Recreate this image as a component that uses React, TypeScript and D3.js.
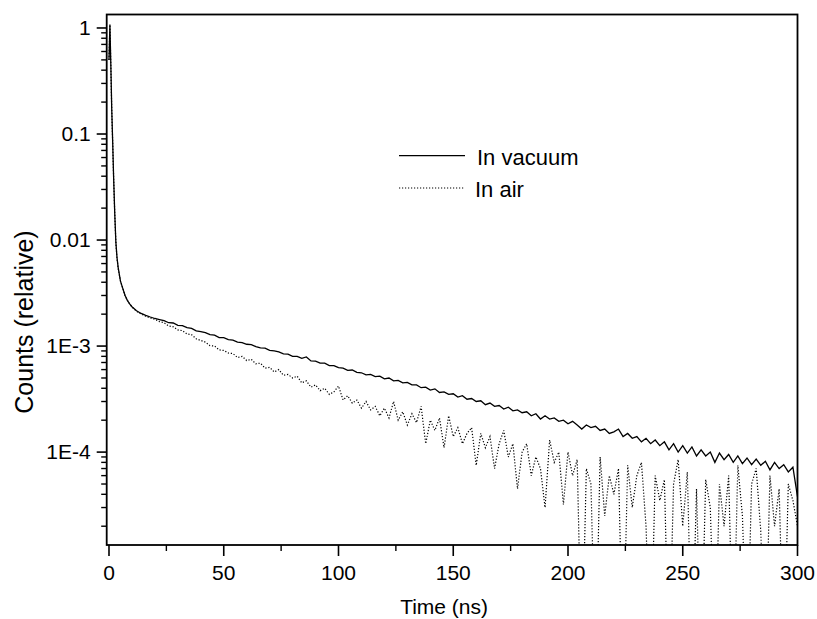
import React from "react";
import * as d3 from "d3";

const earlyTimes = [0, 0.4, 0.8, 1.2, 1.6, 2, 2.5, 3, 3.5, 4, 5, 6, 7, 8, 9, 10, 12, 14, 16, 18];
const tailTimes = [
  20, 22, 24, 26, 28, 30, 32, 34, 36, 38, 40, 42, 44, 46, 48, 50, 52, 54, 56, 58,
  60, 62, 64, 66, 68, 70, 72, 74, 76, 78, 80, 82, 84, 86, 88, 90, 92, 94, 96, 98,
  100, 102, 104, 106, 108, 110, 112, 114, 116, 118, 120, 122, 124, 126, 128, 130, 132, 134, 136, 138,
  140, 142, 144, 146, 148, 150, 152, 154, 156, 158, 160, 162, 164, 166, 168, 170, 172, 174, 176, 178,
  180, 182, 184, 186, 188, 190, 192, 194, 196, 198, 200, 202, 204, 206, 208, 210, 212, 214, 216, 218,
  220, 222, 224, 226, 228, 230, 232, 234, 236, 238, 240, 242, 244, 246, 248, 250, 252, 254, 256, 258,
  260, 262, 264, 266, 268, 270, 272, 274, 276, 278, 280, 282, 284, 286, 288, 290, 292, 294, 296, 298,
  300,
];
const timeNs = [...earlyTimes, ...tailTimes];

const vacuumEarly = [0.5, 1.08, 0.45, 0.17, 0.085, 0.04, 0.018, 0.0095, 0.0068, 0.0055, 0.0041, 0.0035, 0.003, 0.0027, 0.0025, 0.00235, 0.00215, 0.00203, 0.00195, 0.00188];
const vacuumTail = [
  1.82e-3, 1.78e-3, 1.74e-3, 1.66e-3, 1.65e-3,
  1.57e-3, 1.56e-3, 1.49e-3, 1.47e-3, 1.39e-3,
  1.37e-3, 1.34e-3, 1.28e-3, 1.27e-3, 1.2e-3,
  1.2e-3, 1.15e-3, 1.14e-3, 1.09e-3, 1.08e-3,
  1.04e-3, 1.03e-3, 9.9e-4, 9.6e-4, 9.55e-4,
  9.1e-4, 9.0e-4, 8.8e-4, 8.45e-4, 8.4e-4,
  8.0e-4, 8.0e-4, 7.65e-4, 7.9e-4, 7.25e-4,
  7.2e-4, 6.9e-4, 6.9e-4, 6.55e-4, 6.55e-4,
  6.25e-4, 6.2e-4, 5.9e-4, 5.95e-4, 5.65e-4,
  5.6e-4, 5.35e-4, 5.4e-4, 5.15e-4, 5.2e-4,
  4.9e-4, 5.0e-4, 4.7e-4, 4.75e-4, 4.5e-4,
  4.55e-4, 4.3e-4, 4.3e-4, 4.05e-4, 4.1e-4,
  3.85e-4, 3.95e-4, 3.65e-4, 3.7e-4, 3.5e-4,
  3.55e-4, 3.3e-4, 3.4e-4, 3.15e-4, 3.2e-4,
  3.0e-4, 3.05e-4, 2.8e-4, 2.9e-4, 2.7e-4,
  2.75e-4, 2.55e-4, 2.65e-4, 2.45e-4, 2.5e-4,
  2.35e-4, 2.4e-4, 2.2e-4, 2.3e-4, 2.05e-4,
  2.2e-4, 2.05e-4, 2.1e-4, 1.95e-4, 2.0e-4,
  1.85e-4, 1.95e-4, 1.8e-4, 1.65e-4, 1.8e-4,
  1.7e-4, 1.75e-4, 1.6e-4, 1.65e-4, 1.5e-4,
  1.55e-4, 1.65e-4, 1.4e-4, 1.5e-4, 1.35e-4,
  1.4e-4, 1.25e-4, 1.35e-4, 1.2e-4, 1.3e-4,
  1.15e-4, 1.25e-4, 1.05e-4, 1.2e-4, 1.0e-4,
  1.15e-4, 9.8e-5, 1.12e-4, 9.2e-5, 1.05e-4,
  9.2e-5, 1.0e-4, 8.0e-5, 9.8e-5, 8.5e-5,
  9.5e-5, 8.0e-5, 9.2e-5, 7.8e-5, 8.8e-5,
  7.6e-5, 8.6e-5, 7.5e-5, 8.2e-5, 6.8e-5,
  8.0e-5, 7.0e-5, 7.6e-5, 6.5e-5, 7.2e-5,
  3.8e-5,
];
const vacuumCounts = [...vacuumEarly, ...vacuumTail];

const airEarly = [0.5, 1.07, 0.44, 0.168, 0.084, 0.04, 0.018, 0.0094, 0.0067, 0.0054, 0.0041, 0.0035, 0.003, 0.0027, 0.0025, 0.00234, 0.00213, 0.00201, 0.00191, 0.00184];
const airTail = [
  1.79e-3, 1.7e-3, 1.66e-3, 1.55e-3, 1.52e-3,
  1.42e-3, 1.4e-3, 1.3e-3, 1.28e-3, 1.17e-3,
  1.13e-3, 1.09e-3, 1.01e-3, 1.0e-3, 9.2e-4,
  9.1e-4, 8.6e-4, 8.5e-4, 7.8e-4, 8.0e-4,
  7.3e-4, 7.5e-4, 6.8e-4, 6.9e-4, 6.2e-4,
  6.3e-4, 5.7e-4, 6.0e-4, 5.3e-4, 5.4e-4,
  5.0e-4, 5.2e-4, 4.5e-4, 4.7e-4, 4.1e-4,
  4.3e-4, 3.8e-4, 4.0e-4, 3.5e-4, 3.7e-4,
  4.2e-4, 3.1e-4, 3.4e-4, 2.9e-4, 3.1e-4,
  2.6e-4, 3.0e-4, 2.5e-4, 2.7e-4, 2.2e-4,
  2.6e-4, 2.1e-4, 3.0e-4, 2.0e-4, 2.4e-4,
  1.8e-4, 2.3e-4, 1.9e-4, 2.7e-4, 1.2e-4,
  2.0e-4, 1.6e-4, 2.1e-4, 1.1e-4, 2.2e-4,
  1.4e-4, 1.7e-4, 1.2e-4, 1.5e-4, 1.7e-4,
  7.5e-5, 1.5e-4, 1.1e-4, 1.4e-4, 7.0e-5,
  1.2e-4, 1.6e-4, 9.0e-5, 1.2e-4, 4.5e-5,
  1.0e-4, 1.2e-4, 6.0e-5, 9.0e-5, 7.0e-5,
  3.0e-5, 1.3e-4, 8.0e-5, 1.0e-4, 3.2e-5,
  1.0e-4, 6.0e-5, 8.5e-5, 1e-6, 7.0e-5,
  5.0e-5, 1e-6, 9.0e-5, 2.5e-5, 6.0e-5,
  4.0e-5, 7.0e-5, 1e-6, 7.5e-5, 3.0e-5,
  6.0e-5, 8.0e-5, 2.0e-5, 1e-6, 6.0e-5,
  3.5e-5, 5.5e-5, 1e-6, 5.0e-5, 8.5e-5,
  2.0e-5, 6.5e-5, 1e-6, 4.5e-5, 1e-6,
  5.5e-5, 3.0e-5, 1e-6, 5.0e-5, 2.0e-5,
  6.0e-5, 1e-6, 7.5e-5, 2.5e-5, 1e-6,
  5.0e-5, 7.0e-5, 1.8e-5, 1e-6, 6.0e-5,
  2.0e-5, 4.5e-5, 1e-6, 5.0e-5, 3.5e-5,
  2.0e-5,
];
const airCounts = [...airEarly, ...airTail];

const xMajorTicks = [0, 50, 100, 150, 200, 250, 300];
const xMinorTicks = [25, 75, 125, 175, 225, 275];
const yMajorTicks = [1, 0.1, 0.01, 1e-3, 1e-4];
const yTickLabels = ["1", "0.1", "0.01", "1E-3", "1E-4"];
const seriesNames = ["In vacuum", "In air"];

const W = 817;
const H = 619;
const PL = 106.7;
const PR = 797.5;
const PT = 14.5;
const PB = 545;
const FONT = "'Liberation Sans', Arial, Helvetica, sans-serif";

export default function App() {
  const x = d3.scaleLinear().domain([-1, 300]).range([PL, PR]);
  const y = d3.scaleLog().domain([1.33e-5, 1.34]).range([PB, PT]);
  const yMinor = y.ticks().filter((v) => !yMajorTicks.some((m) => Math.abs(m - v) / m < 1e-6));

  const mkLine = (vals: number[]) =>
    d3
      .line<number>()
      .x((_, i) => x(timeNs[i]))
      .y((d) => y(Math.max(d, 1e-7)))(vals) as string;

  return (
    <svg
      width={W}
      height={H}
      viewBox={`0 0 ${W} ${H}`}
      style={{ position: "absolute", left: 0, top: 0, background: "#fff" }}
      fontFamily={FONT}
    >
      <rect x={0} y={0} width={W} height={H} fill="#fff" />
      <defs>
        <clipPath id="plotClip">
          <rect x={PL} y={PT} width={PR - PL} height={PB - PT} />
        </clipPath>
      </defs>

      <g clipPath="url(#plotClip)">
        <path d={mkLine(airCounts)} fill="none" stroke="#000" strokeWidth={1.2} strokeDasharray="1.2,1.8" />
        <path d={mkLine(vacuumCounts)} fill="none" stroke="#000" strokeWidth={1.3} />
      </g>

      {/* frame */}
      <rect x={PL} y={PT} width={PR - PL} height={PB - PT} fill="none" stroke="#000" strokeWidth={1.8} />

      {/* y ticks */}
      {yMajorTicks.map((v, i) => (
        <g key={"ym" + i}>
          <line x1={PL - 10} x2={PL} y1={y(v)} y2={y(v)} stroke="#000" strokeWidth={1.6} />
          <text x={PL - 16} y={y(v)} dy="0.35em" textAnchor="end" fontSize={21}>
            {yTickLabels[i]}
          </text>
        </g>
      ))}
      {yMinor.map((v, i) => (
        <line key={"yn" + i} x1={PL - 5.5} x2={PL} y1={y(v)} y2={y(v)} stroke="#000" strokeWidth={1.4} />
      ))}

      {/* x ticks */}
      {xMajorTicks.map((v) => (
        <g key={"xm" + v}>
          <line x1={x(v)} x2={x(v)} y1={PB} y2={PB + 11} stroke="#000" strokeWidth={1.6} />
          <text x={x(v)} y={PB + 35} textAnchor="middle" fontSize={21}>
            {v}
          </text>
        </g>
      ))}
      {xMinorTicks.map((v) => (
        <line key={"xn" + v} x1={x(v)} x2={x(v)} y1={PB} y2={PB + 6} stroke="#000" strokeWidth={1.4} />
      ))}

      {/* axis titles */}
      <text x={(PL + PR) / 2 - 8} y={PB + 69} textAnchor="middle" fontSize={21}>
        Time (ns)
      </text>
      <text transform={`translate(33, 322) rotate(-90)`} textAnchor="middle" fontSize={25}>
        Counts (relative)
      </text>

      {/* legend */}
      <line x1={399} x2={465} y1={155.7} y2={155.7} stroke="#000" strokeWidth={1.3} />
      <text x={477} y={165} fontSize={22}>
        {seriesNames[0]}
      </text>
      <line x1={399} x2={465} y1={188} y2={188} stroke="#000" strokeWidth={1.2} strokeDasharray="1.2,1.8" />
      <text x={475} y={197} fontSize={22}>
        {seriesNames[1]}
      </text>
    </svg>
  );
}
